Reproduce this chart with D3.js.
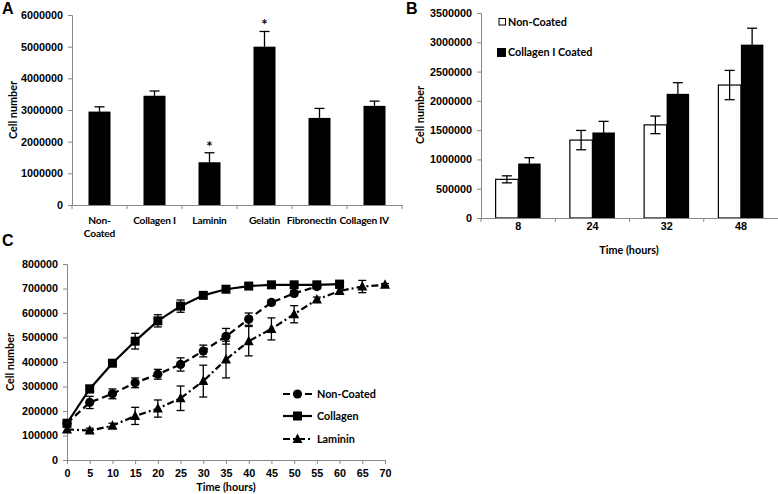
<!DOCTYPE html>
<html><head><meta charset="utf-8">
<script src="https://cdn.jsdelivr.net/npm/d3@7"></script>
<style>
body{margin:0;background:#fff;}
svg{display:block;font-family:Lato,"Open Sans",sans-serif;}
.tick text{font-weight:bold;font-size:10.8px;fill:#000;}
.axis path,.axis line{stroke:#888;}
</style></head><body>
<svg id="c" width="778" height="494"></svg>
<script>
// ---- Panel A ----
const catsA = ["Non-Coated","Collagen I","Laminin","Gelatin","Fibronectin","Collagen IV"];
const valsA = [2950000,3450000,1350000,5000000,2750000,3130000];
const errA  = [150000,150000,300000,480000,300000,150000];
const starA = [false,false,true,true,false,false];
const ticksA = [0,1000000,2000000,3000000,4000000,5000000,6000000];

// ---- Panel B ----
const timesB = ["8","24","32","48"];
const seriesB = ["Non-Coated","Collagen I Coated"];
const nonCoatedB = [660000,1330000,1590000,2270000];
const nonCoatedErrB = [60000,165000,150000,250000];
const collagenB = [930000,1460000,2120000,2960000];
const collagenErrB = [100000,190000,190000,280000];
const ticksB = [0,500000,1000000,1500000,2000000,2500000,3000000,3500000];

// ---- Panel C ----
const timeC = [0,5,10,15,20,25,30,35,40,45,50,55,60,65,70];
const nonCoatedC = [150000,235000,270000,315000,350000,390000,445000,505000,575000,643000,680000,708000,null,null,null];
const nonCoatedErrC = [10000,25000,20000,20000,20000,27000,24000,32000,25000,10000,10000,8000,null,null,null];
const collagenC = [150000,290000,395000,485000,568000,628000,672000,697000,710000,715000,715000,715000,718000,null,null];
const collagenErrC = [10000,15000,12000,32000,25000,25000,12000,8000,8000,8000,8000,8000,8000,null,null];
const lamininC = [125000,120000,140000,180000,210000,252000,322000,410000,485000,535000,595000,655000,690000,708000,715000];
const lamininErrC = [10000,10000,10000,35000,35000,50000,65000,75000,60000,45000,35000,10000,10000,25000,5000];
const ticksC = [0,100000,200000,300000,400000,500000,600000,700000,800000];
const xticksC = [0,5,10,15,20,25,30,35,40,45,50,55,60,65,70];

const svg = d3.select("#c");
const FS = 10.8;

function panelLabel(t,x,y){
  svg.append("text").attr("x",x).attr("y",y).text(t)
    .attr("font-family","Liberation Sans,Arial,sans-serif").attr("font-weight","bold").attr("font-size",16);
}
function yTitle(x,y){
  svg.append("text").attr("transform",`translate(${x},${y}) rotate(-90)`)
    .attr("text-anchor","middle").attr("font-weight","bold").attr("font-size",FS).text("Cell number");
}
function errBar(g,x,y0,y1,cap){
  g.append("line").attr("x1",x).attr("x2",x).attr("y1",y0).attr("y2",y1).attr("stroke","#000").attr("stroke-width",1.3);
  g.append("line").attr("x1",x-cap).attr("x2",x+cap).attr("y1",y1).attr("y2",y1).attr("stroke","#000").attr("stroke-width",1.3);
}

// ===== A =====
{
  const x = d3.scaleBand().domain(catsA).range([72,402]).paddingInner(0).paddingOuter(0);
  const y = d3.scaleLinear().domain([0,6000000]).range([205,15]);
  const g = svg.append("g");
  const bw = x.bandwidth()*0.4;
  catsA.forEach((c,i)=>{
    const cx = x(c)+x.bandwidth()/2;
    g.append("rect").attr("x",cx-bw/2).attr("y",y(valsA[i])).attr("width",bw).attr("height",y(0)-y(valsA[i])).attr("fill","#000");
    errBar(g,cx,y(valsA[i]),y(valsA[i]+errA[i]),5);
    errBar(g,cx,y(valsA[i]),y(valsA[i]-errA[i]),5);
    if(starA[i]) g.append("text").attr("x",cx).attr("y",y(valsA[i]+errA[i])-1).attr("text-anchor","middle")
      .attr("font-weight","bold").attr("font-size",15).text("*");
  });
  const ya = svg.append("g").attr("class","axis").attr("transform","translate(72,0)")
    .call(d3.axisLeft(y).tickValues(ticksA).tickFormat(d3.format("d")).tickSize(4));
  ya.selectAll("text").attr("dx",-2);
  const xa = svg.append("g").attr("class","axis").attr("transform","translate(0,205)")
    .call(d3.axisBottom(x).tickSize(0).tickFormat(""));
  catsA.concat([null]).forEach((c)=>{
    const xx = c===null? 402 : x(c);
    xa.append("line").attr("x1",xx).attr("x2",xx).attr("y1",0).attr("y2",4).attr("stroke","#888");
  });
  // labels, kept inside chart area and non-overlapping (right to left)
  const labs = catsA.map(c=>{
    const cx = x(c)+x.bandwidth()/2;
    const lines = c==="Non-Coated"?["Non-","Coated"]:[c];
    const ts = lines.map((l,j)=>svg.append("text").attr("x",cx).attr("y",224+j*13).attr("text-anchor","middle")
      .attr("font-weight","bold").attr("font-size",10.2).attr("letter-spacing",-0.2).text(l));
    const w = d3.max(ts,t=>t.node().getComputedTextLength());
    return {ts,cx,w};
  });
  let limit = 389;
  for(let i=labs.length-1;i>=0;i--){
    const L = labs[i];
    let cx = L.cx;
    if(cx+L.w/2>limit) cx = limit-L.w/2;
    L.ts.forEach(t=>t.attr("x",cx));
    limit = cx-L.w/2-3;
  }
  yTitle(17,110);
  panelLabel("A",2,14);
}

// ===== B =====
{
  const x = d3.scaleBand().domain(timesB).range([481,778]);
  const y = d3.scaleLinear().domain([0,3500000]).range([218,13]);
  const g = svg.append("g");
  const bw = 22.5;
  timesB.forEach((t,i)=>{
    const cx = x(t)+x.bandwidth()/2;
    g.append("rect").attr("x",cx-bw).attr("y",y(nonCoatedB[i])).attr("width",bw).attr("height",y(0)-y(nonCoatedB[i]))
      .attr("fill","#fff").attr("stroke","#000").attr("stroke-width",1.2);
    g.append("rect").attr("x",cx).attr("y",y(collagenB[i])).attr("width",bw).attr("height",y(0)-y(collagenB[i])).attr("fill","#000");
    errBar(g,cx-bw/2,y(nonCoatedB[i]),y(nonCoatedB[i]+nonCoatedErrB[i]),5);
    errBar(g,cx-bw/2,y(nonCoatedB[i]),y(nonCoatedB[i]-nonCoatedErrB[i]),5);
    errBar(g,cx+bw/2,y(collagenB[i]),y(collagenB[i]+collagenErrB[i]),5);
    errBar(g,cx+bw/2,y(collagenB[i]),y(collagenB[i]-collagenErrB[i]),5);
  });
  const ya = svg.append("g").attr("class","axis").attr("transform","translate(481,0)")
    .call(d3.axisLeft(y).tickValues(ticksB).tickFormat(d3.format("d")).tickSize(4));
  ya.selectAll("text").attr("dx",-2);
  const xa = svg.append("g").attr("class","axis").attr("transform","translate(0,218)")
    .call(d3.axisBottom(x).tickSize(0).tickPadding(4));
  timesB.forEach(t=>{ xa.append("line").attr("x1",x(t)).attr("x2",x(t)).attr("y1",0).attr("y2",4).attr("stroke","#888"); });
  const lg = svg.append("g");
  seriesB.forEach((s,i)=>{
    const yy = 22+i*30;
    lg.append("rect").attr("x",i===0?499:497.5).attr("y",yy-3.5).attr("width",i===0?6.5:8).attr("height",i===0?6.5:8)
      .attr("fill",i===0?"#fff":"#000").attr("stroke","#000").attr("stroke-width",1);
    lg.append("text").attr("x",508).attr("y",yy+4).attr("font-weight","bold").attr("font-size",FS).text(s);
  });
  svg.append("text").attr("x",629).attr("y",254).attr("text-anchor","middle").attr("font-weight","bold").attr("font-size",FS).text("Time (hours)");
  yTitle(424,115);
  panelLabel("B",406,14);
}

// ===== C =====
{
  const x = d3.scaleLinear().domain([0,70]).range([67,385]);
  const y = d3.scaleLinear().domain([0,800000]).range([460,264]);
  const ya = svg.append("g").attr("class","axis").attr("transform","translate(67,0)")
    .call(d3.axisLeft(y).tickValues(ticksC).tickFormat(d3.format("d")).tickSize(4));
  ya.selectAll("text").attr("dx",-2);
  svg.append("g").attr("class","axis").attr("transform","translate(0,460)")
    .call(d3.axisBottom(x).tickValues(xticksC).tickSize(4).tickPadding(5));
  const series = [
    {name:"Laminin",v:lamininC,e:lamininErrC,dash:"7,3,2,3",shape:"tri"},
    {name:"Non-Coated",v:nonCoatedC,e:nonCoatedErrC,dash:"7,4",shape:"circ"},
    {name:"Collagen",v:collagenC,e:collagenErrC,dash:null,shape:"sq"}
  ];
  const g = svg.append("g");
  function marker(gg,shape,cx,cy){
    if(shape==="sq") gg.append("rect").attr("x",cx-4.5).attr("y",cy-4.5).attr("width",9).attr("height",9).attr("fill","#000");
    else if(shape==="circ") gg.append("circle").attr("cx",cx).attr("cy",cy).attr("r",4.6).attr("fill","#000");
    else gg.append("path").attr("d",`M${cx},${cy-5.5}L${cx+5},${cy+4}L${cx-5},${cy+4}Z`).attr("fill","#000");
  }
  series.forEach(s=>{
    const pts = timeC.map((t,i)=>({t,v:s.v[i],e:s.e[i]})).filter(d=>d.v!==null);
    pts.forEach(d=>{
      errBar(g,x(d.t),y(d.v),y(d.v+d.e),4);
      errBar(g,x(d.t),y(d.v),y(d.v-d.e),4);
    });
    const line = d3.line().x(d=>x(d.t)).y(d=>y(d.v));
    g.append("path").datum(pts).attr("d",line).attr("fill","none").attr("stroke","#000").attr("stroke-width",2.2)
      .attr("stroke-dasharray",s.dash);
    pts.forEach(d=>marker(g,s.shape,x(d.t),y(d.v)));
  });
  const order = [series[1],series[2],series[0]];
  const ly = [394,416,439];
  order.forEach((s,i)=>{
    g.append("line").attr("x1",283).attr("x2",312).attr("y1",ly[i]).attr("y2",ly[i]).attr("stroke","#000").attr("stroke-width",2.2)
      .attr("stroke-dasharray",s.dash);
    marker(g,s.shape,297.5,ly[i]);
    g.append("text").attr("x",317).attr("y",ly[i]+4).attr("font-weight","bold").attr("font-size",FS).text(s.name);
  });
  svg.append("text").attr("x",226).attr("y",491).attr("text-anchor","middle").attr("font-weight","bold").attr("font-size",FS).text("Time (hours)");
  yTitle(14,362);
  panelLabel("C",2,246);
}
</script></body></html>
